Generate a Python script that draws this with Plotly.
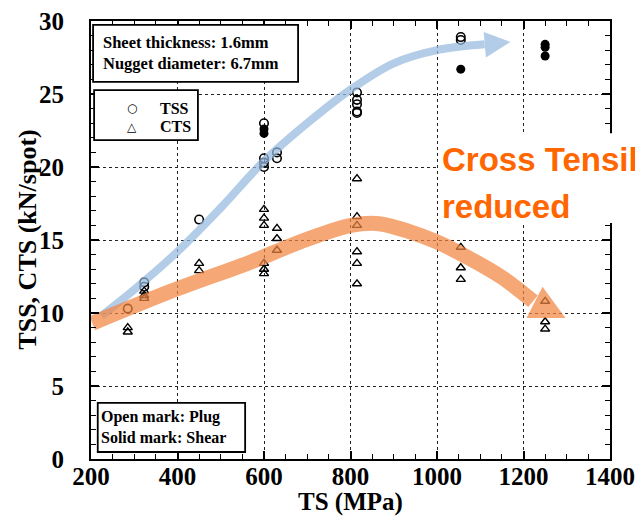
import plotly.graph_objects as go

# ---- data ----
tss_plug_x = [285, 323, 323, 450, 600, 600, 600, 600, 630, 630, 815, 815, 815, 815, 815, 1055, 1055]
tss_plug_y = [10.3, 12.1, 11.8, 16.4, 23.0, 20.6, 20.3, 20.0, 21.0, 20.6, 25.1, 24.6, 24.3, 23.8, 23.7, 28.9, 28.7]
tss_shear_x = [600, 600, 1055, 1250, 1250, 1250]
tss_shear_y = [22.6, 22.3, 26.7, 28.4, 28.2, 27.6]
cts_x = [285, 285, 323, 323, 323, 450, 450, 600, 600, 600, 600, 600, 600, 630, 630, 630,
         815, 815, 815, 815, 815, 815, 1055, 1055, 1055, 1250, 1250, 1250]
cts_y = [9.0, 8.7, 11.5, 11.2, 11.0, 13.4, 12.9, 17.1, 16.5, 16.0, 13.4, 13.0, 12.7, 15.8, 15.1, 14.3,
         19.2, 16.6, 16.0, 14.2, 13.4, 12.0, 14.5, 13.1, 12.3, 10.8, 9.4, 8.9]

# guide arrows (annotation curves)
blue_curve_x = [224, 300, 400, 500, 600, 700, 800, 900, 1000, 1110]
blue_curve_y = [9.8, 11.6, 14.2, 17.2, 20.4, 23.0, 25.3, 27.1, 28.0, 28.4]
blue_head_x = [1108, 1170, 1113]
blue_head_y = [29.25, 28.56, 27.5]
orange_curve_x = [203, 386, 570, 686, 801, 870, 997, 1147, 1222]
orange_curve_y = [9.3, 11.5, 13.5, 14.9, 16.0, 16.1, 14.9, 12.5, 10.8]
orange_head_x = [1244, 1297, 1207]
orange_head_y = [11.8, 9.66, 9.66]

x_ticks = [200, 400, 600, 800, 1000, 1200, 1400]
y_ticks = [0, 5, 10, 15, 20, 25, 30]

SERIF = "Liberation Serif, Times New Roman, serif"
BLUE = "rgba(150,185,222,0.72)"
ORANGE = "rgba(243,133,65,0.72)"
OVERLAY_FONT = "Liberation Sans Narrow, Arial Narrow, Liberation Sans, sans-serif"

fig = go.Figure()

fig.add_trace(go.Scatter(x=tss_plug_x, y=tss_plug_y, mode="markers", name="TSS", showlegend=False,
                         marker=dict(symbol="circle-open", size=8.5, color="black", line=dict(width=1.6))))
fig.add_trace(go.Scatter(x=cts_x, y=cts_y, mode="markers", name="CTS", showlegend=False,
                         marker=dict(symbol="triangle-up-open", size=8, color="black", line=dict(width=1.4))))
fig.add_trace(go.Scatter(x=tss_shear_x, y=tss_shear_y, mode="markers", name="TSS shear", showlegend=False,
                         marker=dict(symbol="circle", size=9, color="black")))

# arrows
fig.add_trace(go.Scatter(x=blue_curve_x, y=blue_curve_y, mode="lines",
                         line=dict(color=BLUE, width=8, shape="spline", smoothing=1),
                         showlegend=False, hoverinfo="skip"))
fig.add_trace(go.Scatter(x=blue_head_x, y=blue_head_y, mode="lines", fill="toself", fillcolor=BLUE,
                         line=dict(width=0), showlegend=False, hoverinfo="skip"))
fig.add_trace(go.Scatter(x=orange_curve_x, y=orange_curve_y, mode="lines",
                         line=dict(color=ORANGE, width=15, shape="spline", smoothing=0.8),
                         showlegend=False, hoverinfo="skip"))
fig.add_trace(go.Scatter(x=orange_head_x, y=orange_head_y, mode="lines", fill="toself", fillcolor=ORANGE,
                         line=dict(width=0), showlegend=False, hoverinfo="skip"))

axis_common = dict(showline=True, linecolor="black", linewidth=2, mirror="allticks", automargin=False,
                   ticks="inside", ticklen=8, tickwidth=1.5, tickcolor="black", ticklabeloverflow="allow",
                   showgrid=True, gridcolor="#222", gridwidth=1.3, griddash="dot", zeroline=False,
                   tickfont=dict(family=SERIF, size=25, color="black", weight="bold"))

fig.update_xaxes(range=[200, 1400], tickvals=x_ticks, ticktext=[str(v) for v in x_ticks],
                 minor=dict(dtick=50, ticks="inside", ticklen=5, tickwidth=1.3, tickcolor="black", showgrid=False),
                 ticklabelstandoff=-6, **axis_common)
fig.update_yaxes(range=[0, 30], tickvals=y_ticks, ticktext=[str(v) for v in y_ticks],
                 minor=dict(dtick=1, ticks="inside", ticklen=5, tickwidth=1.3, tickcolor="black", showgrid=False),
                 ticklabelstandoff=20, **axis_common)

BOX_LINE = dict(color="black", width=1.8)
shapes = [
    # info boxes
    dict(type="rect", xref="paper", yref="paper", x0=0.004, x1=0.399, y0=0.861, y1=0.991,
         line=BOX_LINE, fillcolor="white", layer="above"),
    dict(type="rect", xref="paper", yref="paper", x0=0.006, x1=0.206, y0=0.728, y1=0.842,
         line=BOX_LINE, fillcolor="white", layer="above"),
    dict(type="rect", xref="paper", yref="paper", x0=0.013, x1=0.297, y0=0.016, y1=0.128,
         line=BOX_LINE, fillcolor="white", layer="above"),
    # white patch behind the overlaid text
    dict(type="rect", xref="paper", yref="paper", x0=0.669, x1=1.07, y0=0.539, y1=0.744,
         line=dict(width=0), fillcolor="white", layer="above"),
    # cut-off glyph at right edge
    dict(type="line", xref="paper", yref="paper", x0=1.052, x1=1.052, y0=0.171, y1=0.215,
         line=dict(color="black", width=2.2), layer="above"),
]

LEG_FONT = dict(family=SERIF, size=16, color="black", weight="bold")
SYM_FONT = dict(family="DejaVu Sans, sans-serif", size=12, color="black")
annotations = [
    dict(xref="paper", yref="paper", x=0.019, y=0.926, xanchor="left", yanchor="middle", showarrow=False,
         align="left", text="Sheet thickness: 1.6mm<br>Nugget diameter: 6.7mm",
         font=dict(family=SERIF, size=16.5, color="black", weight="bold")),
    dict(xref="paper", yref="paper", x=0.015, y=0.072, xanchor="left", yanchor="middle", showarrow=False,
         align="left", text="Open mark: Plug<br>Solid mark: Shear", font=LEG_FONT),
    # legend
    dict(xref="paper", yref="paper", x=0.079, y=0.801, xanchor="center", yanchor="middle", showarrow=False,
         text="○", font=SYM_FONT),
    dict(xref="paper", yref="paper", x=0.079, y=0.758, xanchor="center", yanchor="middle", showarrow=False,
         text="△", font=SYM_FONT),
    dict(xref="paper", yref="paper", x=0.129, y=0.801, xanchor="left", yanchor="middle", showarrow=False,
         text="TSS", font=LEG_FONT),
    dict(xref="paper", yref="paper", x=0.129, y=0.758, xanchor="left", yanchor="middle", showarrow=False,
         text="CTS", font=LEG_FONT),
    # overlaid orange text
    dict(xref="paper", yref="paper", x=0.673, y=0.683, xanchor="left", yanchor="middle", showarrow=False,
         text="Cross Tensil",
         font=dict(family=OVERLAY_FONT, size=33, color="#ff6600", weight="bold")),
    dict(xref="paper", yref="paper", x=0.673, y=0.577, xanchor="left", yanchor="middle", showarrow=False,
         text="reduced",
         font=dict(family=OVERLAY_FONT, size=33, color="#ff6600", weight="bold")),
    # axis titles
    dict(xref="paper", yref="paper", x=0.5, y=-0.099, xanchor="center", yanchor="middle", showarrow=False,
         text="TS (MPa)", font=dict(family=SERIF, size=25, color="black", weight="bold")),
    dict(xref="paper", yref="paper", x=-0.124, y=0.5, xanchor="center", yanchor="middle", showarrow=False,
         textangle=-90, text="TSS, CTS (kN/spot)", font=dict(family=SERIF, size=26, color="black", weight="bold")),
]

# the page body has an 8px default margin, so the figure is 8px smaller and shifted
fig.update_layout(
    width=635, height=510,
    margin=dict(l=83, r=33, t=13, b=59),
    plot_bgcolor="white", paper_bgcolor="white",
    shapes=shapes, annotations=annotations,
    showlegend=False,
)

fig.write_html("out.html")
